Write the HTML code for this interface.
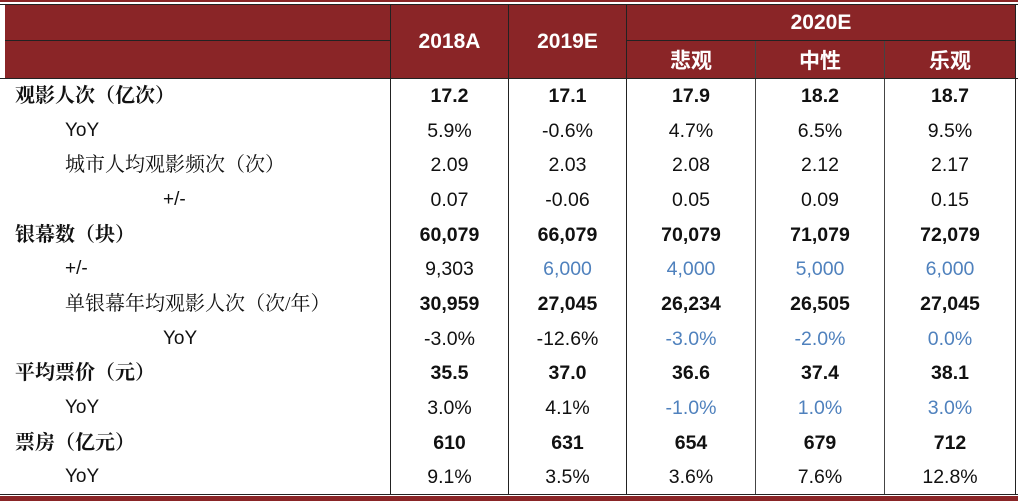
<!DOCTYPE html>
<html><head><meta charset="utf-8"><style>
body{margin:0;width:1018px;height:501px;background:#fff;position:relative;overflow:hidden;font-family:"Liberation Sans","Noto Sans CJK SC",sans-serif}
.abs{position:absolute}
.hdr{background:#8a2527;color:#fff;font-weight:bold;font-size:21px;display:flex;align-items:center;justify-content:center}
.cell{position:absolute;height:34.67px;line-height:34.67px;text-align:center;font-size:19.5px;color:#111}
.lab{position:absolute;height:34.67px;line-height:34.67px;font-size:20px;color:#111;font-family:"Liberation Serif","Noto Serif CJK SC",serif;white-space:nowrap}
.b{font-weight:bold}
.blue{color:#4f81bd}
</style></head><body>
<div class="abs" style="left:0;top:0;width:1018px;height:2px;background:#8a2527"></div>
<div class="abs" style="left:0;top:4px;width:1018px;height:1px;background:#222"></div>
<div class="abs hdr" style="left:5px;top:5px;width:385px;height:73px"></div>
<div class="abs" style="left:5px;top:40px;width:385px;height:1px;background:#222"></div>
<div class="abs hdr" style="left:391px;top:5px;width:117px;height:73px">2018A</div>
<div class="abs hdr" style="left:509px;top:5px;width:117px;height:73px">2019E</div>
<div class="abs hdr" style="left:627px;top:5px;width:388px;height:35px">2020E</div>
<div class="abs" style="left:627px;top:40px;width:388px;height:1px;background:#222"></div>
<div class="abs hdr" style="left:627px;top:41px;width:128px;height:37px;font-family:'Noto Sans CJK SC',sans-serif">悲观</div>
<div class="abs hdr" style="left:756px;top:41px;width:128px;height:37px;font-family:'Noto Sans CJK SC',sans-serif">中性</div>
<div class="abs hdr" style="left:885px;top:41px;width:130px;height:37px;font-family:'Noto Sans CJK SC',sans-serif">乐观</div>
<div class="abs" style="left:390px;top:5px;width:1px;height:490px;background:#222"></div>
<div class="abs" style="left:508px;top:5px;width:1px;height:490px;background:#222"></div>
<div class="abs" style="left:626px;top:5px;width:1px;height:490px;background:#222"></div>
<div class="abs" style="left:755px;top:41px;width:1px;height:454px;background:#444"></div>
<div class="abs" style="left:884px;top:41px;width:1px;height:454px;background:#444"></div>
<div class="abs" style="left:1015px;top:5px;width:1px;height:490px;background:#222"></div>
<div class="abs" style="left:0;top:78px;width:1018px;height:1px;background:#222"></div>
<div class="abs" style="left:0;top:494px;width:1018px;height:1px;background:#222"></div>
<div class="abs" style="left:0;top:496px;width:1018px;height:5px;background:#8a2527"></div>
<div id="body"></div>
<script>
const labels=["观影人次（亿次）","YoY","城市人均观影频次（次）","+/-","银幕数（块）","+/-","单银幕年均观影人次（次/年）","YoY","平均票价（元）","YoY","票房（亿元）","YoY"];
const indents=[15,65,65,163,15,65,65,163,15,65,15,65];
const boldRows=[1,0,0,0,1,0,1,0,1,0,1,0];
const labelBold=[1,0,0,0,1,0,0,0,1,0,1,0];
const v2018=["17.2","5.9%","2.09","0.07","60,079","9,303","30,959","-3.0%","35.5","3.0%","610","9.1%"];
const v2019=["17.1","-0.6%","2.03","-0.06","66,079","6,000","27,045","-12.6%","37.0","4.1%","631","3.5%"];
const vPess=["17.9","4.7%","2.08","0.05","70,079","4,000","26,234","-3.0%","36.6","-1.0%","654","3.6%"];
const vNeut=["18.2","6.5%","2.12","0.09","71,079","5,000","26,505","-2.0%","37.4","1.0%","679","7.6%"];
const vOpt=["18.7","9.5%","2.17","0.15","72,079","6,000","27,045","0.0%","38.1","3.0%","712","12.8%"];
const blue2019=[5];
const blue2020=[5,7,9];
const cols=[[391,117,v2018],[509,117,v2019],[627,128,vPess],[756,128,vNeut],[885,130,vOpt]];
const root=document.getElementById('body');
labels.forEach((l,i)=>{
  const y=79+i*34.67;
  const d=document.createElement('div');
  d.className='lab'+(labelBold[i]?' b':'');
  
  
  d.style.left=indents[i]+'px';d.style.top=y+'px';
  if(l==='YoY'||l==='+/-'){d.style.fontFamily='"Liberation Sans",sans-serif';d.style.fontSize='19px';}
  d.textContent=l;root.appendChild(d);
  cols.forEach((c,j)=>{
    const e=document.createElement('div');
    let cls='cell'+(boldRows[i]?' b':'');
    if((j===1&&blue2019.includes(i))||(j>=2&&blue2020.includes(i)))cls+=' blue';
    e.className=cls;
    
    
    e.style.left=c[0]+'px';e.style.width=c[1]+'px';e.style.top=y+'px';
    e.textContent=c[2][i];root.appendChild(e);
  });
});
</script>
</body></html>
